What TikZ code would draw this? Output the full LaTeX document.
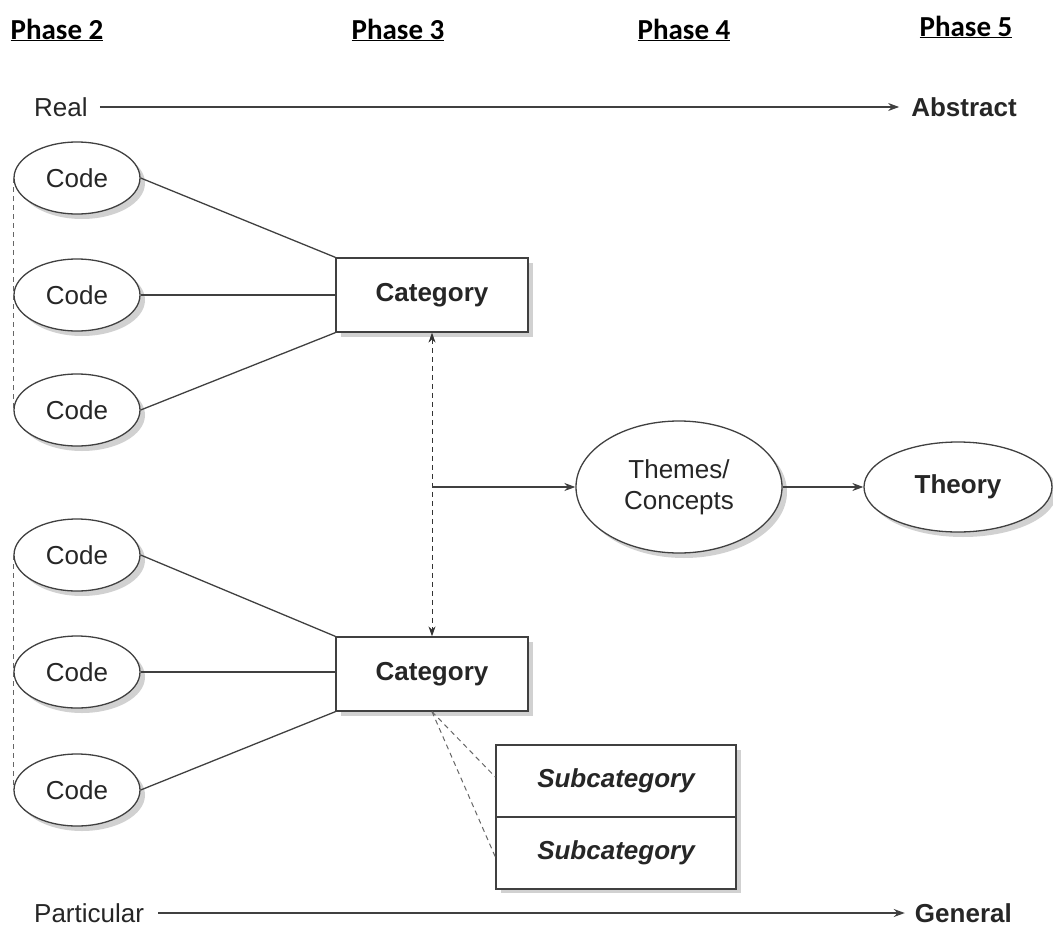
\documentclass[tikz,border=0pt]{standalone}
\usepackage{fontspec}
\setmainfont{Liberation Sans}
\newfontfamily\phasefont{Carlito}
\usetikzlibrary{shapes.geometric,arrows.meta,shadows}
\begin{document}
\begin{tikzpicture}[x=1pt,y=-1pt,
  every node/.style={font=\fontsize{26}{30}\selectfont, text=black!85},
  ln/.style={draw=black!75, line width=1.3pt},
  shad/.style={drop shadow={shadow xshift=5pt, shadow yshift=-5pt, fill=black!18, opacity=1}},
  codeell/.style={ellipse, ln, fill=white, shad, minimum width=126pt, minimum height=72pt, inner sep=0pt},
  catbox/.style={rectangle, ln, fill=white, shad, minimum width=192pt, minimum height=74pt, font=\fontsize{26}{30}\selectfont\bfseries},
  subbox/.style={rectangle, ln, fill=white, minimum width=240pt, minimum height=72pt, font=\fontsize{26}{30}\selectfont\bfseries\itshape},
  phase/.style={font=\phasefont\fontsize{29}{32}\selectfont\bfseries, text=black, inner sep=0pt},
  arr/.style={ln, -{Stealth[length=11pt,width=8pt]}},
  dsh/.style={draw=black!60, line width=1pt, dashed, dash pattern=on 5pt off 4pt},
]
\useasboundingbox (0,0) rectangle (1053,929);

% phase headings
\node[phase] (p2) at (57,30) {\underline{Phase 2}};
\node[phase] (p3) at (398,30) {\underline{Phase 3}};
\node[phase] (p4) at (684,30) {\underline{Phase 4}};
\node[phase] (p5) at (966,27) {\underline{Phase 5}};

% axes
\node[anchor=west, inner sep=0pt] (real) at (34,107) {Real};
\node[anchor=east, inner sep=0pt, font=\fontsize{26}{30}\selectfont\bfseries] (abs) at (1017,107) {Abstract};
\draw[arr] (real.east) ++(12,0) coordinate (ra) -- ([xshift=-12pt]abs.west);

\node[anchor=west, inner sep=0pt] (part) at (34,913) {Particular};
\node[anchor=east, inner sep=0pt, font=\fontsize{26}{30}\selectfont\bfseries] (gen) at (1012,913) {General};
\draw[arr] (part.east) ++(14,0) coordinate (pa) -- ([xshift=-10pt]gen.west);

% upper group
\node[codeell] (c1) at (77,178) {Code};
\node[codeell] (c2) at (77,295) {Code};
\node[codeell] (c3) at (77,410) {Code};
\node[catbox] (cat1) at (432,295) {Category};

% lower group
\node[codeell] (c4) at (77,555) {Code};
\node[codeell] (c5) at (77,672) {Code};
\node[codeell] (c6) at (77,790) {Code};
\node[catbox] (cat2) at (432,674) {Category};

% code -> category lines
\draw[ln] (c1.east) -- (cat1.north west);
\draw[ln] (c2.east) -- (cat1.west);
\draw[ln] (c3.east) -- (cat1.south west);
\draw[ln] (c4.east) -- (cat2.north west);
\draw[ln] (c5.east) -- (c5.east -| cat2.west);
\draw[ln] (c6.east) -- (cat2.south west);

% dashed left rails
\draw[dsh] (c1.west) -- (c3.west);
\draw[dsh] (c4.west) -- (c6.west);

% double dashed arrow between categories
\draw[dsh, draw=black!80, {Stealth[length=10pt,width=7pt]}-{Stealth[length=10pt,width=7pt]}] (cat1.south) -- (cat2.north);

% themes and theory
\node[ellipse, ln, fill=white, shad, minimum width=206pt, minimum height=132pt, inner sep=0pt, align=center, font=\fontsize{26}{31}\selectfont] (themes) at (679,487) {Themes/\\Concepts};
\node[ellipse, ln, fill=white, shad, minimum width=188pt, minimum height=90pt, inner sep=0pt, font=\fontsize{26}{30}\selectfont\bfseries] (theory) at (958,487) {Theory};
\coordinate (mid) at (432,487);
\draw[arr] (mid) -- (themes.west);
\draw[arr] (themes.east) -- (theory.west);

% subcategories
\fill[black!18] (501,750) rectangle (741,893);
\node[subbox] (s1) at (616,781) {Subcategory};
\node[subbox] (s2) at (616,853) {Subcategory};
\draw[dsh] (cat2.south) -- ([yshift=4pt]s1.west);
\draw[dsh] (cat2.south) -- ([yshift=-4pt]s2.west);
\end{tikzpicture}
\end{document}
